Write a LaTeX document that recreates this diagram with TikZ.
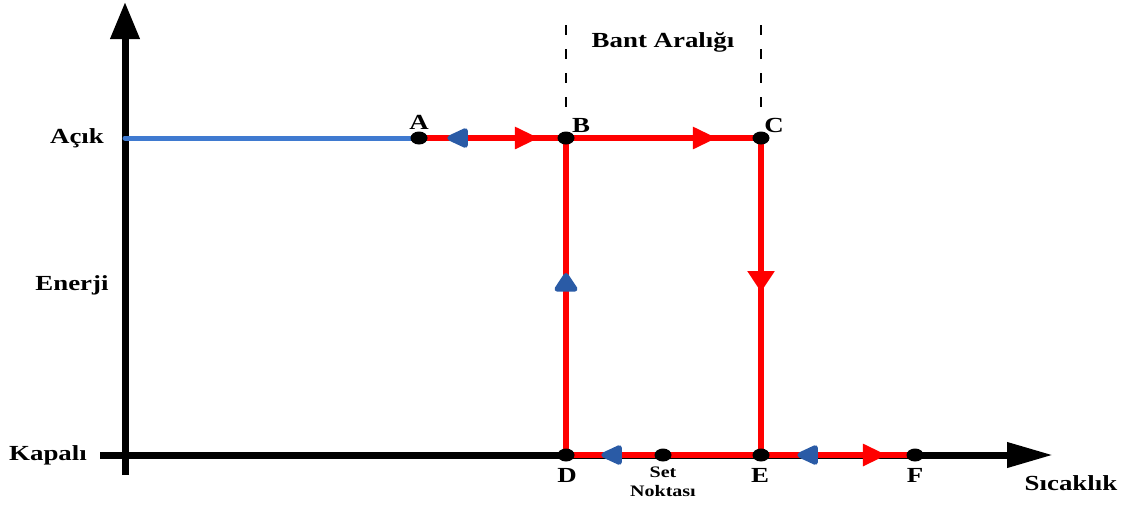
\documentclass[tikz,border=0pt]{standalone}
\usepackage{fontspec}
\setmainfont{Liberation Serif}
\usepackage{graphicx}
\usetikzlibrary{arrows.meta,shapes.geometric,decorations.markings}
\definecolor{hotred}{HTML}{FF0000}
\definecolor{lineblue}{HTML}{3F7AD0}
\definecolor{tipblue}{HTML}{2A5BA6}
\newcommand{\widetext}[1]{\scalebox{1.25}[1]{#1}}

\begin{document}
\begin{tikzpicture}[x=1pt,y=-1pt,
  every node/.style={font=\fontsize{21.5}{24}\selectfont\bfseries,inner sep=0pt},
  axis/.style={line width=7pt,black},
  run/.style={line width=5.5pt,hotred},
  dot/.style={ellipse,fill=black,minimum width=17pt,minimum height=13pt,inner sep=0pt},
  fwd/.style={postaction={decorate,decoration={markings,
    mark=at position #1 with {\arrow{Triangle[length=24pt,width=21pt,color=hotred]}}}}},
  bwd/.style={postaction={decorate,decoration={markings,
    mark=at position #1 with {\arrow{Triangle[round,reversed,length=25pt,width=21pt,color=tipblue]}}}}},
  band/.style={line width=2pt,black,dash pattern=on 10pt off 14pt},
  small/.style={font=\fontsize{16}{19}\selectfont\bfseries,align=center}]
\useasboundingbox (0,0) rectangle (1129,507);
% points on the curve
\coordinate (pA) at (419,138);
\coordinate (pB) at (566,138);
\coordinate (pC) at (761,138);
\coordinate (pD) at (566,455);
\coordinate (pS) at (663,455);
\coordinate (pE) at (761,455);
\coordinate (pF) at (915,455);
\coordinate (on) at (125,138);
% axes
\coordinate (o1) at (125,475);
\coordinate (ytip) at (125,2);
\coordinate (o2) at (100,455);
\coordinate (xtip) at (1053,455);
\draw[axis,-{Triangle[length=37pt,width=28pt]}] (o1)--(ytip);
\draw[axis,-{Triangle[length=46pt,width=24pt]}] (o2)--(xtip);
% band
\coordinate (b1) at (566,25);
\coordinate (b2) at (566,115);
\coordinate (c1) at (761,25);
\coordinate (c2) at (761,115);
\draw[band] (b1)--(b2);
\draw[band] (c1)--(c2);
% hysteresis
\draw[line width=5pt,lineblue,line cap=round] (on)--(pA);
\draw[run,bwd=0.333,fwd=0.816] (pA)--(pB);
\draw[run,fwd=0.774] (pB)--(pC);
\draw[run,postaction={decorate,decoration={markings,
  mark=at position 0.486 with {\arrow{Triangle[length=21pt,width=26pt,color=hotred]}}}}] (pC)--(pE);
\draw[run,bwd=0.287] (pD)--(pE);
\draw[run,bwd=0.370,fwd=0.818] (pE)--(pF);
\draw[run,postaction={decorate,decoration={markings,
  mark=at position 0.574 with {\arrow{Triangle[round,length=21pt,width=26pt,color=tipblue]}}}}] (pD)--(pB);
\node[dot] (A) at (pA) {};
\node[dot] (B) at (pB) {};
\node[dot] (C) at (pC) {};
\node[dot] (D) at (pD) {};
\node[dot] (S) at (pS) {};
\node[dot] (E) at (pE) {};
\node[dot] (F) at (pF) {};
% labels
\node (lA) at (419,122) {\widetext{A}};
\node (lB) at (581,125) {\widetext{B}};
\node (lC) at (774,125) {\widetext{C}};
\node (lD) at (567,475) {\widetext{D}};
\node (lE) at (760,475) {\widetext{E}};
\node (lF) at (915,475) {\widetext{F}};
\node[small] (lS) at (663,482) {\widetext{Set}\\\widetext{Noktası}};
\node (acik) at (77,138) {\widetext{Açık}};
\node (enerji) at (72,285) {\widetext{Enerji}};
\node (kapali) at (48,455) {\widetext{Kapalı}};
\node (sicak) at (1071,483) {\widetext{Sıcaklık}};
\node (bant) at (663,42) {\widetext{Bant Aralığı}};
\end{tikzpicture}
\end{document}
